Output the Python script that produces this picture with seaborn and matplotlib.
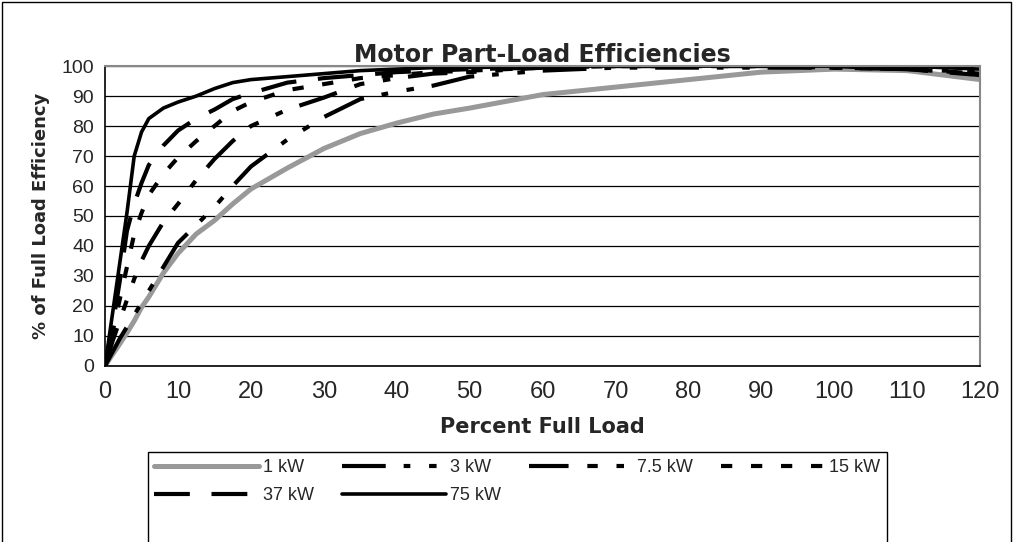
import numpy as np
import pandas as pd
import matplotlib
matplotlib.use("Agg")
import matplotlib.pyplot as plt
import seaborn as sns
from matplotlib.lines import Line2D
from matplotlib.patches import Rectangle

# Percent full load (x values)
load = [0, 1, 2, 3, 4, 5, 6, 8, 10, 12.5, 15, 17.5, 20, 25, 30, 35, 40, 45, 50,
        60, 70, 80, 90, 100, 110, 120]

# % of full load efficiency for each motor size
kw1 = [0, 3.7, 7.3, 11, 15, 19.5, 23, 31, 37.5, 44, 48.5, 54, 59, 66, 72.5, 77.5, 81, 84, 86,
       90.5, 93, 95.5, 98, 99, 98.5, 95.5]
kw3 = [0, 4.5, 9, 13, 17, 21, 25, 33, 41, 47, 53, 60, 66.5, 75.5, 83, 89, 91.5, 93.5, 96.5,
       98.5, 99.5, 99.5, 99.5, 99.5, 99, 98]
kw7_5 = [0, 8, 15, 22, 29, 35, 40, 48, 54, 62, 69, 75, 80, 85.5, 89.5, 94, 96, 97.5, 98,
         99.5, 100, 100, 100, 99.5, 99, 97.5]
kw15 = [0, 11, 22, 33, 44, 51, 57, 64, 69.5, 75, 80, 85, 88, 92, 94, 96, 97, 98, 98.5,
        99.5, 100, 100, 100, 99.5, 99, 97.5]
kw37 = [0, 13, 28, 45, 54, 61, 67, 73.5, 78.5, 82.5, 85.5, 89, 91, 94.5, 96, 97, 98, 98.5, 99,
        99.5, 100, 100, 100, 100, 99, 97]
kw75 = [0, 17, 34, 51, 70, 78, 82.5, 86, 88, 90, 92.5, 94.5, 95.5, 96.5, 97.5, 98.5, 99, 99.5, 99.5,
        100, 100, 100, 100, 100, 100, 99]

labels = ["1 kW", "3 kW", "7.5 kW", "15 kW", "37 kW", "75 kW"]
series = [kw1, kw3, kw7_5, kw15, kw37, kw75]

colors = ["#999999", "black", "black", "black", "black", "black"]
widths = [3.6, 3.0, 3.0, 3.0, 3.0, 2.6]
dash_styles = [None, (10.5, 4.3, 1.6, 4.5, 1.8, 4.3), (9.5, 4.5, 2.5, 4.5, 1.8, 4.3),
               (2.7, 4.5), (8.6, 5.2), None]

sns.set_style("white")
plt.rcParams['font.family'] = ['Liberation Sans', 'DejaVu Sans']

fig = plt.figure(figsize=(10.13, 5.42), dpi=100)
ax = fig.add_axes([0.1037, 0.325, 0.864, 0.553])

for lab, vals, c, w, d in zip(labels, series, colors, widths, dash_styles):
    df = pd.DataFrame({"load": load, "eff": vals})
    ls = "-" if d is None else (0, d)
    sns.lineplot(data=df, x="load", y="eff", ax=ax, color=c, linewidth=w,
                 linestyle=ls, legend=False)

ax.set_xlim(0, 120)
ax.set_ylim(0, 100)
ax.set_xticks(range(0, 121, 10))
ax.set_yticks(range(0, 101, 10))
ax.yaxis.grid(True, color="black", linewidth=0.9)
ax.set_axisbelow(True)
ax.tick_params(axis="both", length=5, width=1, direction="out", color="black")
ax.tick_params(axis="y", labelsize=14, pad=3)
ax.tick_params(axis="x", labelsize=17, pad=6)
for s in ["left", "bottom"]:
    ax.spines[s].set_color("black")
    ax.spines[s].set_linewidth(1.2)
for s in ["top", "right"]:
    ax.spines[s].set_color("#888888")
    ax.spines[s].set_linewidth(1.5)

ax.set_title("Motor Part-Load Efficiencies", fontsize=17, fontweight="bold",
             family="DejaVu Sans", pad=3)
ax.set_xlabel("Percent Full Load", fontsize=15, fontweight="bold",
              family="DejaVu Sans", labelpad=10)
ax.set_ylabel("% of Full Load Efficiency", fontsize=13, fontweight="bold",
              family="DejaVu Sans", labelpad=8)

# legend (row-wise order for 4 columns)
handles = [Line2D([], [], color=c, linewidth=w,
                  linestyle="-" if d is None else (0, d))
           for c, w, d in zip(colors, widths, dash_styles)]
order = [0, 4, 1, 5, 2, 3]
leg = fig.legend([handles[i] for i in order], [labels[i] for i in order],
                 loc="upper left", bbox_to_anchor=(0.138, 0.179),
                 ncol=4, frameon=False, fontsize=13, handlelength=5.8,
                 handletextpad=0.2, columnspacing=1.55, borderpad=0.3,
                 labelspacing=0.6)

fig.patches.append(Rectangle((0.146, -0.05), 0.73, 0.216, transform=fig.transFigure,
                             fill=False, edgecolor="black", linewidth=1.0))
fig.patches.append(Rectangle((0.002, -0.05), 0.996, 1.046, transform=fig.transFigure,
                             fill=False, edgecolor="black", linewidth=1.0))

plt.savefig("out.png", dpi=100)
